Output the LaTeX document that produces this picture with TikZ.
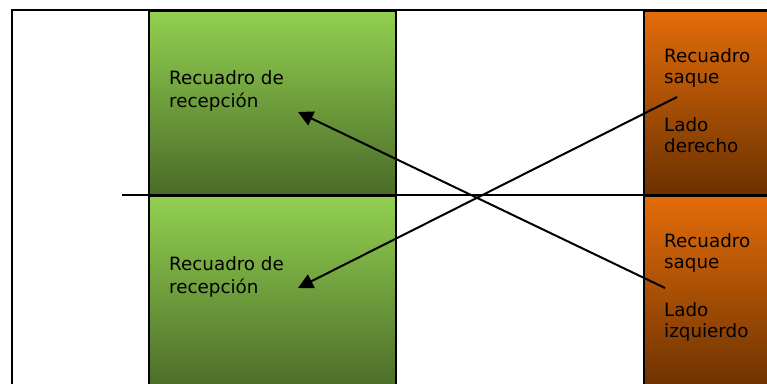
\documentclass[tikz,border=0pt]{standalone}
\usepackage{fontspec}
\setmainfont{DejaVu Sans}
\usetikzlibrary{arrows.meta}
\definecolor{gtop}{HTML}{92D050}
\definecolor{gbot}{HTML}{4A6A28}
\definecolor{otop}{HTML}{E46C0A}
\definecolor{obot}{HTML}{6A3100}
\tikzset{
  frame/.style={line width=2.4pt, black},
  greenbox/.style={draw=black, line width=2.4pt, top color=gtop, bottom color=gbot, anchor=north west, inner sep=0pt, minimum width=247pt, minimum height=185pt},
  orangebox/.style={draw=black, line width=2.4pt, top color=otop, bottom color=obot, anchor=north west, inner sep=0pt, minimum width=130pt, minimum height=185pt},
  gtext/.style={anchor=base west, inner sep=0pt, align=left, font=\fontsize{18.3}{23}\selectfont},
  otext/.style={anchor=base west, inner sep=0pt, align=left, font=\fontsize{18.3}{21}\selectfont},
  conn/.style={line width=2pt, -{Triangle[length=15pt,width=15pt]}}
}
\begin{document}
\begin{tikzpicture}[x=1pt,y=-1pt]
\useasboundingbox (0,0) rectangle (767,383);
% boxes
\node[greenbox] (g1) at (148,10) {};
\node[greenbox, minimum height=195pt] (g2) at (148,195) {};
\node[orangebox] (o1) at (643,10) {};
\node[orangebox, minimum height=195pt] (o2) at (643,195) {};
% frame lines
\coordinate (tl) at (12,10);
\coordinate (tr) at (770,10);
\coordinate (bl) at (12,390);
\coordinate (ml) at (122,195);
\coordinate (mr) at (770,195);
\draw[frame] (bl) -- (tl) -- (tr);
\draw[frame] (ml) -- (mr);
% texts
\node[gtext] (t1) at (169,107) {Recuadro de\\recepción};
\node[gtext] (t2) at (169,293) {Recuadro de\\recepción};
\node[otext] (t3) at (664,83) {Recuadro\\saque};
\node[otext] (t4) at (664,152) {Lado\\derecho};
\node[otext] (t5) at (664,268) {Recuadro\\saque};
\node[otext] (t6) at (664,337) {Lado\\izquierdo};
% connectors
\coordinate (s1) at (677,97);
\coordinate (e1) at (298,288);
\coordinate (s2) at (665,288);
\coordinate (e2) at (298,112);
\draw[conn] (s1) -- (e1);
\draw[conn] (s2) -- (e2);
\end{tikzpicture}
\end{document}
